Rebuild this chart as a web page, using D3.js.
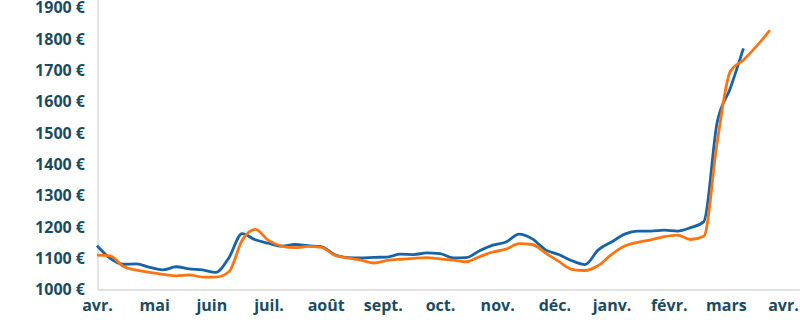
<!DOCTYPE html>
<html>
<head>
<meta charset="utf-8">
<script src="https://cdn.jsdelivr.net/npm/d3@7"></script>
<style>
  html, body { margin: 0; padding: 0; background: #fff; }
  svg { display: block; }
  .tick text { font-family: "Open Sans", sans-serif; font-weight: 700; font-size: 16px; fill: #1a4c60; }
</style>
</head>
<body>
<svg id="chart" width="800" height="323"></svg>
<script>
// Month labels, one per tick (monthly, evenly spaced)
var months = ['avr.', 'mai', 'juin', 'juil.', 'août', 'sept.', 'oct.', 'nov.', 'déc.', 'janv.', 'févr.', 'mars', 'avr.'];
// Y axis ticks
var yTicks = [1000, 1100, 1200, 1300, 1400, 1500, 1600, 1700, 1800, 1900];

// Weekly values (index = week since start)
var blueSeries = [
  1138, 1098, 1079, 1080, 1069, 1061, 1071, 1064, 1061, 1053,
  1100, 1177, 1157, 1146, 1137, 1142, 1138, 1135, 1110, 1100,
  1099, 1101, 1102, 1111, 1110, 1115, 1113, 1099, 1100, 1122,
  1140, 1150, 1175, 1160, 1125, 1110, 1090, 1078, 1125, 1150,
  1175, 1185, 1185, 1188, 1185, 1196, 1215, 1530, 1640, 1768
];
var orangeSeries = [
  1108, 1106, 1072, 1060, 1053, 1047, 1042, 1045, 1038, 1038,
  1055, 1155, 1190, 1155, 1137, 1132, 1136, 1133, 1108, 1099,
  1092, 1083, 1091, 1095, 1098, 1100, 1096, 1092, 1087, 1103,
  1118, 1127, 1145, 1142, 1115, 1088, 1063, 1059, 1075, 1110,
  1137, 1149, 1157, 1167, 1172, 1158, 1168, 1465, 1694, 1731,
  1775, 1826
];

var WEEKS_PER_YEAR = 52;
var LEFT = 97, RIGHT = 783, TOP = 7, BOTTOM = 289;

var svg = d3.select('#chart');

// x runs in months, ticks on each month
var x = d3.scaleLinear().domain([0, 12]).range([LEFT, RIGHT]);
var y = d3.scaleLinear().domain([1000, 1900]).range([BOTTOM, TOP]);

function weekToMonth(i) { return i * 12 / WEEKS_PER_YEAR; }

// Axis lines (light grey)
svg.append('line')
  .attr('x1', LEFT + 1).attr('x2', LEFT + 1)
  .attr('y1', 0).attr('y2', BOTTOM + 1)
  .attr('stroke', '#d9d9d9').attr('stroke-width', 1.5);
svg.append('line')
  .attr('x1', LEFT + 1).attr('x2', 800)
  .attr('y1', BOTTOM + 1).attr('y2', BOTTOM + 1)
  .attr('stroke', '#d9d9d9').attr('stroke-width', 1.5);

// Y axis labels
var yAxis = d3.axisLeft(y).tickValues(yTicks)
  .tickFormat(function (d) { return d + ' €'; })
  .tickSize(0).tickPadding(12);
svg.append('g').attr('transform', 'translate(' + LEFT + ',0)').call(yAxis)
  .call(function (g) { g.select('.domain').remove(); })
  .selectAll('text').attr('dy', '0.36em');

// X axis labels
var xAxis = d3.axisBottom(x).tickValues(d3.range(months.length))
  .tickFormat(function (d) { return months[d]; })
  .tickSize(0).tickPadding(11);
svg.append('g').attr('transform', 'translate(0,' + BOTTOM + ')').call(xAxis)
  .call(function (g) { g.select('.domain').remove(); });

var line = d3.line()
  .x(function (d, i) { return x(weekToMonth(i)); })
  .y(function (d) { return y(d); })
  .curve(d3.curveMonotoneX);

svg.append('path').datum(blueSeries)
  .attr('fill', 'none').attr('stroke', '#1664a6').attr('stroke-width', 2.8)
  .attr('stroke-linejoin', 'round').attr('d', line);

svg.append('path').datum(orangeSeries)
  .attr('fill', 'none').attr('stroke', '#fb7413').attr('stroke-width', 2.8)
  .attr('stroke-linejoin', 'round').attr('d', line);
</script>
</body>
</html>
